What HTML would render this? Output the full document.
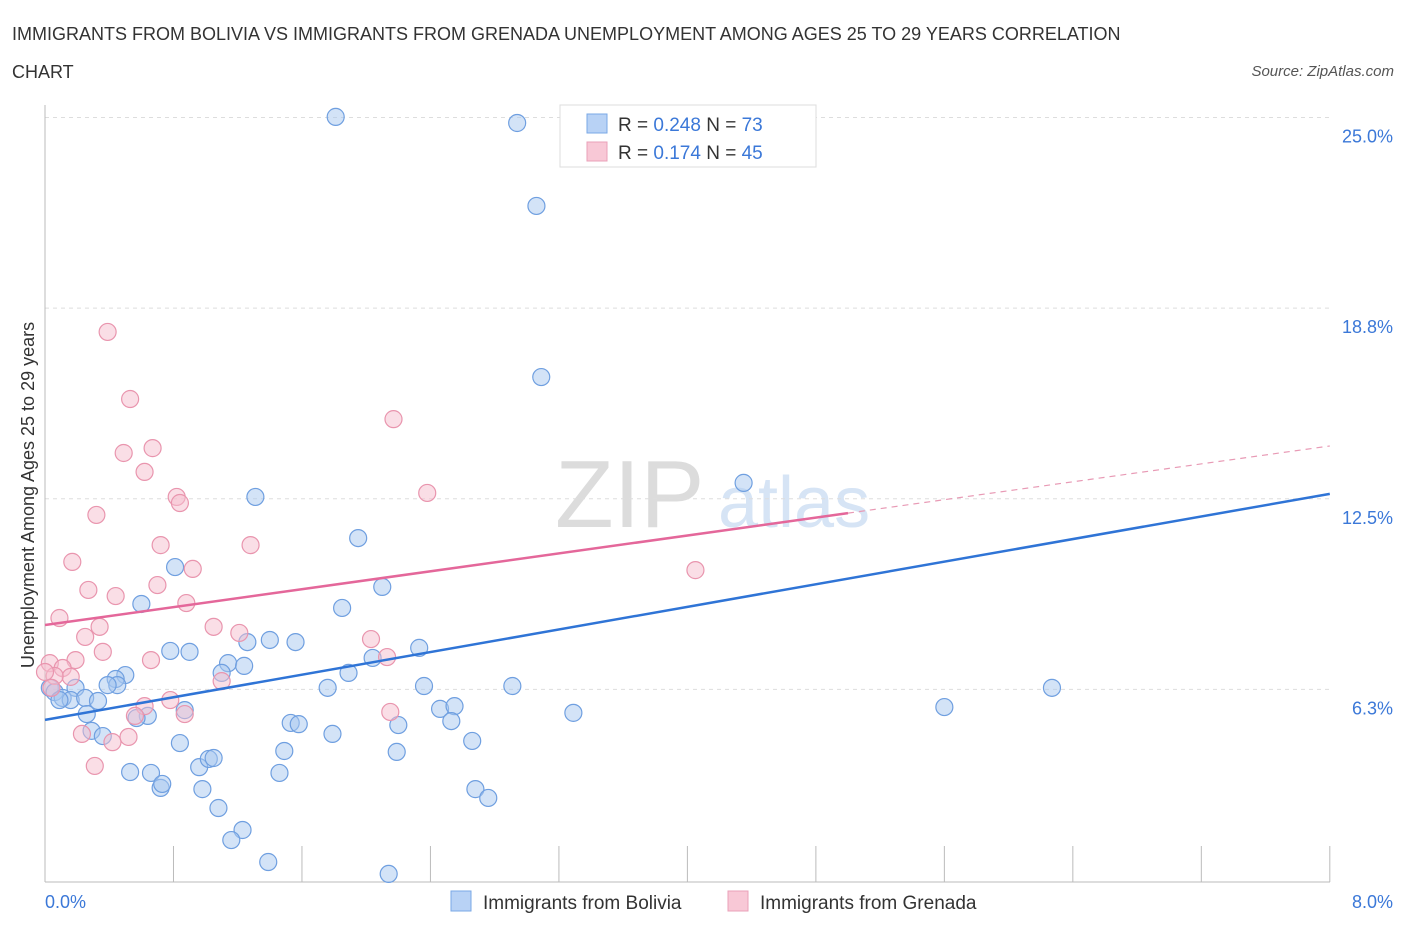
<!DOCTYPE html>
<html><head><meta charset="utf-8"><style>
body{margin:0;background:#fff;font-family:"Liberation Sans",sans-serif;}
svg text{font-family:"Liberation Sans",sans-serif;}
</style></head><body>
<svg width="1406" height="930" xmlns="http://www.w3.org/2000/svg" id="chart">
<text x="12" y="40" font-size="18" fill="#333">IMMIGRANTS FROM BOLIVIA VS IMMIGRANTS FROM GRENADA UNEMPLOYMENT AMONG AGES 25 TO 29 YEARS CORRELATION</text>
<text x="12" y="78" font-size="18" fill="#333">CHART</text>
<text x="1394" y="76" font-size="15" fill="#555" text-anchor="end" font-style="italic">Source: ZipAtlas.com</text>
<g>
<text x="555" y="527" font-size="96" font-family="Liberation Serif" fill="#dcdcdc">ZIP</text>
<text x="718" y="527" font-size="72" fill="#d6e4f5">atlas</text>
</g>
<g id="grid"></g>
<g id="axes"></g>
<g id="pts"></g>
<g id="trend"></g>
<text transform="translate(34,495) rotate(-90)" font-size="18" fill="#333" text-anchor="middle">Unemployment Among Ages 25 to 29 years</text>
<g>
<rect x="560" y="105" width="256" height="62" fill="#fff" stroke="#ddd"/>
<rect x="587" y="114" width="20" height="19" fill="#b8d2f5" stroke="#7aa8e6"/>
<text x="618" y="131" font-size="19" fill="#333">R = <tspan fill="#3b78d8">0.248</tspan>   N = <tspan fill="#3b78d8">73</tspan></text>
<rect x="587" y="142" width="20" height="19" fill="#f8c8d6" stroke="#eaa0b8"/>
<text x="618" y="159" font-size="19" fill="#333">R =  <tspan fill="#3b78d8">0.174</tspan>   N = <tspan fill="#3b78d8">45</tspan></text>
</g>
<g>
<rect x="451" y="891" width="20" height="20" fill="#b8d2f5" stroke="#7aa8e6"/>
<text x="483" y="909" font-size="19" fill="#333">Immigrants from Bolivia</text>
<rect x="728" y="891" width="20" height="20" fill="#f8c8d6" stroke="#eaa0b8"/>
<text x="760" y="909" font-size="19" fill="#333">Immigrants from Grenada</text>
</g>
</svg>
<script>
const yTicks=[6.25,12.5,18.75,25];
const yTickLabels=["6.3%","12.5%","18.8%","25.0%"];
const xTickVals=[0,0.8,1.6,2.4,3.2,4,4.8,5.6,6.4,7.2,8];
const blueX=[1.81,2.94,3.06,3.09,4.35,6.27,5.60,1.31,1.95,2.10,1.85,0.60,0.81,0.78,0.90,1.26,1.40,1.56,1.14,1.24,1.10,1.89,2.04,2.33,0.50,0.44,0.45,0.39,0.19,0.03,0.06,0.11,0.16,0.25,0.33,0.26,0.64,0.57,0.87,1.53,1.58,1.76,2.36,2.46,2.55,2.53,2.20,2.91,3.29,1.79,0.29,0.36,0.84,1.49,2.19,2.66,0.53,0.66,0.96,1.02,1.05,1.46,0.72,0.73,0.98,2.68,2.76,1.08,1.23,1.16,1.39,2.14,0.09];
const blueY=[25.02,24.82,22.1,16.49,13.02,6.30,5.67,12.56,11.21,9.61,8.92,9.05,10.26,7.51,7.48,7.80,7.87,7.80,7.11,7.02,6.79,6.79,7.28,7.61,6.72,6.59,6.39,6.39,6.30,6.30,6.16,5.97,5.90,5.97,5.87,5.44,5.38,5.31,5.57,5.15,5.11,6.30,6.36,5.61,5.70,5.21,5.08,6.36,5.48,4.79,4.89,4.72,4.49,4.23,4.20,4.56,3.54,3.51,3.70,3.97,4.00,3.51,3.02,3.15,2.98,2.98,2.69,2.36,1.64,1.31,0.59,0.20,5.90];
const pinkX=[0.39,0.53,2.17,0.67,0.49,0.62,0.82,0.84,2.38,0.32,1.28,0.72,0.92,0.17,4.05,0.70,0.27,0.44,0.88,0.09,0.34,1.05,1.21,2.03,0.25,0.36,0.19,0.66,2.13,0.03,0.11,0.16,0.06,1.10,0.0,0.04,0.62,0.78,0.87,0.56,2.15,0.23,0.52,0.42,0.31];
const pinkY=[17.97,15.77,15.11,14.16,14.0,13.38,12.56,12.36,12.69,11.97,10.98,10.98,10.2,10.43,10.16,9.67,9.51,9.31,9.08,8.59,8.30,8.30,8.10,7.90,7.97,7.48,7.21,7.21,7.31,7.11,6.95,6.66,6.69,6.52,6.82,6.30,5.70,5.90,5.44,5.38,5.51,4.79,4.69,4.52,3.74];
const blueTrend=[5.25,12.66];
const pinkTrend=[8.36,14.23];
const pinkSolidEnd=5.0;
const X=v=>45+v*160.6, Y=v=>880-v*30.5;
const NS="http://www.w3.org/2000/svg";
function mk(t,a,p){const e=document.createElementNS(NS,t);for(const k in a)e.setAttribute(k,a[k]);p.appendChild(e);return e;}
const grid=document.getElementById('grid'),axes=document.getElementById('axes'),pts=document.getElementById('pts'),tr=document.getElementById('trend');
yTicks.forEach((v,i)=>{
 const l=mk('line',{x1:45,x2:1330,y1:Y(v),y2:Y(v),stroke:'#ddd','stroke-dasharray':'4,4'},grid);
 
 
 const t=mk('text',{x:1393,y:Y(v)+25,'font-size':18,fill:'#3b78d8','text-anchor':'end'},axes);
 t.textContent=yTickLabels[i];
 
 
});
const ax=mk('line',{x1:45,x2:45,y1:105,y2:882,stroke:'#bbb'},axes);


const bx=mk('line',{x1:45,x2:1330,y1:882,y2:882,stroke:'#bbb'},axes);


xTickVals.forEach(v=>{
 const l=mk('line',{x1:X(v),x2:X(v),y1:846,y2:882,stroke:'#bbb'},axes);
 
 
});
const xl=mk('text',{x:45,y:908,'font-size':18,fill:'#3b78d8'},axes);xl.textContent='0.0%';


const xr=mk('text',{x:1393,y:908,'font-size':18,fill:'#3b78d8','text-anchor':'end'},axes);xr.textContent='8.0%';


blueX.forEach((v,i)=>{
 const c=mk('circle',{cx:X(v),cy:Y(blueY[i]),r:8.5,fill:'rgba(168,200,240,0.5)',stroke:'#6f9fe0','stroke-width':1.2},pts);
 
 
});
pinkX.forEach((v,i)=>{
 const c=mk('circle',{cx:X(v),cy:Y(pinkY[i]),r:8.5,fill:'rgba(246,190,206,0.5)',stroke:'#e995ae','stroke-width':1.2},pts);
 
 
});
const bl=mk('line',{x1:X(0),y1:Y(blueTrend[0]),x2:X(8),y2:Y(blueTrend[1]),stroke:'#2f74d6','stroke-width':2.5},tr);


const pm=v=>pinkTrend[0]+(pinkTrend[1]-pinkTrend[0])*v/8;
const pl=mk('line',{x1:X(0),y1:Y(pinkTrend[0]),x2:X(pinkSolidEnd),y2:Y(pm(pinkSolidEnd)),stroke:'#e4679a','stroke-width':2.5},tr);


const pd=mk('line',{x1:X(pinkSolidEnd),y1:Y(pm(pinkSolidEnd)),x2:X(8),y2:Y(pinkTrend[1]),stroke:'#e89ab5','stroke-width':1.2,'stroke-dasharray':'6,5'},tr);


</script>
</body></html>
